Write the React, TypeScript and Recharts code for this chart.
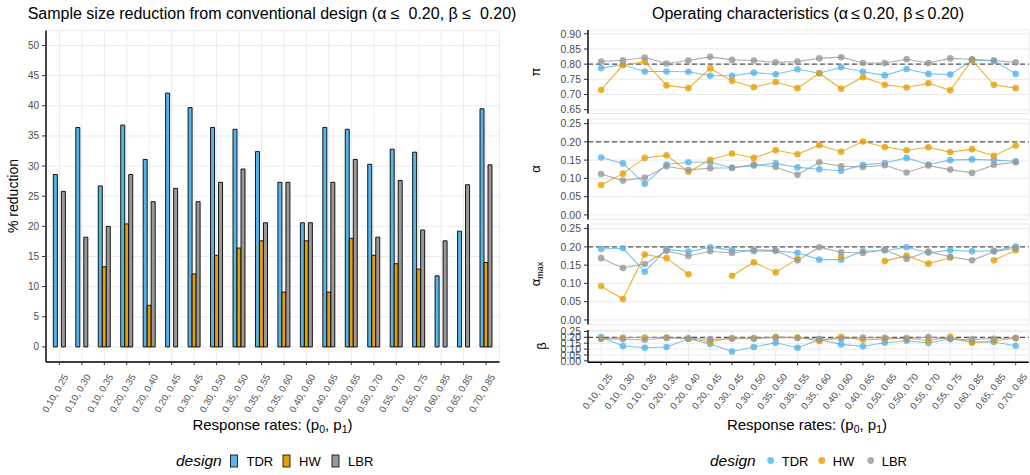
import React from "react";
import {
  Bar,
  BarChart,
  CartesianGrid,
  Line,
  LineChart,
  ReferenceLine,
  XAxis,
  YAxis,
} from "recharts";

const FONT = '"Liberation Sans", Arial, Helvetica, sans-serif';
const TEXT = "#4d4d4d";
const GRID = "#ebebeb";
const COLORS: Record<string, string> = { TDR: "#56B4E9", HW: "#E69F00", LBR: "#999999" };
const designs = ["TDR", "HW", "LBR"];

const categories = [
  "0.10, 0.25", "0.10, 0.30", "0.10, 0.35", "0.20, 0.35", "0.20, 0.40",
  "0.20, 0.45", "0.30, 0.45", "0.30, 0.50", "0.35, 0.50", "0.35, 0.55",
  "0.35, 0.60", "0.40, 0.60", "0.40, 0.65", "0.50, 0.65", "0.50, 0.70",
  "0.55, 0.70", "0.55, 0.75", "0.60, 0.85", "0.65, 0.85", "0.70, 0.85",
];

// % reduction in sample size (left panel)
const reductionTDR = [28.6, 36.4, 26.7, 36.8, 31.1, 42.1, 39.7, 36.4, 36.1, 32.4, 27.3, 20.6, 36.4, 36.1, 30.3, 32.8, 32.3, 11.8, 19.2, 39.5];
const reductionHW = [null, null, 13.3, 20.4, 6.9, null, 12.1, 15.2, 16.4, 17.6, 9.1, 17.6, 9.1, 18.0, 15.2, 13.8, 12.9, null, null, 14.0];
const reductionLBR = [25.8, 18.2, 20.0, 28.6, 24.1, 26.3, 24.1, 27.3, 29.5, 20.6, 27.3, 20.6, 27.3, 31.1, 18.2, 27.6, 19.4, 17.6, 26.9, 30.2];
const reductionTicks = [0, 5, 10, 15, 20, 25, 30, 35, 40, 45, 50];

// operating characteristics (right panels)
const piTDR = [0.787, 0.798, 0.776, 0.776, 0.775, 0.762, 0.762, 0.772, 0.767, 0.783, 0.770, 0.790, 0.775, 0.763, 0.784, 0.768, 0.766, 0.813, 0.811, 0.768];
const piHW = [0.715, 0.797, 0.808, 0.730, 0.721, 0.786, 0.745, 0.724, 0.741, 0.721, 0.770, 0.719, 0.757, 0.732, 0.723, 0.737, 0.714, 0.814, 0.732, 0.721];
const piLBR = [0.809, 0.813, 0.822, 0.802, 0.812, 0.824, 0.814, 0.812, 0.806, 0.809, 0.819, 0.823, 0.804, 0.804, 0.816, 0.804, 0.819, 0.816, 0.812, 0.806];

const alphaTDR = [0.157, 0.141, 0.085, 0.138, 0.144, 0.144, 0.129, 0.135, 0.141, 0.130, 0.125, 0.121, 0.137, 0.142, 0.156, 0.138, 0.150, 0.152, 0.150, 0.147];
const alphaHW = [0.082, 0.113, 0.156, 0.163, 0.118, 0.151, 0.168, 0.156, 0.177, 0.166, 0.191, 0.173, 0.201, 0.186, 0.177, 0.185, 0.172, 0.180, 0.162, 0.190];
const alphaLBR = [0.112, 0.094, 0.102, 0.133, 0.123, 0.128, 0.129, 0.138, 0.131, 0.110, 0.144, 0.133, 0.131, 0.136, 0.116, 0.135, 0.124, 0.115, 0.137, 0.144];

const amaxTDR = [0.194, 0.196, 0.132, 0.193, 0.187, 0.199, 0.191, 0.188, 0.189, 0.184, 0.165, 0.165, 0.188, 0.190, 0.199, 0.184, 0.191, 0.188, 0.189, 0.201];
const amaxHW = [0.093, 0.057, 0.179, 0.169, 0.125, null, 0.121, 0.158, 0.130, 0.167, null, 0.172, null, 0.161, 0.176, 0.154, 0.170, null, 0.163, 0.191];
const amaxLBR = [0.169, 0.142, 0.153, 0.189, 0.175, 0.188, 0.183, 0.192, 0.190, 0.163, 0.199, 0.185, 0.183, 0.192, 0.167, 0.187, 0.173, 0.163, 0.187, 0.196];

const betaTDR = [0.202, 0.126, 0.112, 0.118, 0.188, 0.143, 0.079, 0.118, 0.154, 0.112, 0.180, 0.140, 0.124, 0.154, 0.171, 0.152, 0.188, 0.160, 0.160, 0.129];
const betaHW = [0.188, 0.199, 0.199, 0.199, 0.188, 0.163, 0.194, 0.194, 0.202, 0.199, 0.169, 0.202, 0.180, 0.185, 0.194, 0.171, 0.205, 0.154, 0.169, 0.194];
const betaLBR = [0.188, 0.185, 0.180, 0.194, 0.191, 0.183, 0.188, 0.188, 0.199, 0.194, 0.185, 0.188, 0.199, 0.197, 0.188, 0.202, 0.185, 0.183, 0.188, 0.194];

const piTicks = [0.65, 0.7, 0.75, 0.8, 0.85, 0.9];
const ocTicks = [0, 0.05, 0.1, 0.15, 0.2, 0.25];

const rows = (tdr: (number | null)[], hw: (number | null)[], lbr: (number | null)[]) =>
  categories.map((cat, i) => ({ cat, TDR: tdr[i], HW: hw[i], LBR: lbr[i] }));

const barData = rows(reductionTDR, reductionHW, reductionLBR);

// plot-area top / height in page pixels, one entry per stacked panel
const panels = [
  { key: "pi", data: rows(piTDR, piHW, piLBR), top: 30, height: 83.5, domain: [0.6375, 0.9125], ticks: piTicks, ref: 0.8 },
  { key: "alpha", data: rows(alphaTDR, alphaHW, alphaLBR), top: 119, height: 100.5, domain: [-0.0125, 0.2625], ticks: ocTicks, ref: 0.2 },
  { key: "amax", data: rows(amaxTDR, amaxHW, amaxLBR), top: 224, height: 100.5, domain: [-0.0125, 0.2625], ticks: ocTicks, ref: 0.2 },
  { key: "beta", data: rows(betaTDR, betaHW, betaLBR), top: 330, height: 32.3, domain: [-0.0125, 0.2625], ticks: ocTicks, ref: 0.2, last: true },
];

// slanted category label; anchor is the upper-right end of the text
function SlantTick(props: any) {
  const { x, y, payload, angle = 60, dx = 3, dy = 6 } = props;
  const ax = x + dx;
  const ay = y + dy;
  return (
    <text
      x={ax}
      y={ay}
      transform={`rotate(-${angle} ${ax} ${ay})`}
      textAnchor="end"
      dominantBaseline="hanging"
      fontSize={9.5}
      fill={TEXT}
      fontFamily={FONT}
    >
      {payload.value}
    </text>
  );
}

function Overlay() {
  const leg = { fontSize: 13, fill: "#000" };
  return (
    <svg
      width={1030}
      height={475}
      style={{ position: "absolute", left: 0, top: 0, pointerEvents: "none" }}
      fontFamily={FONT}
    >
      <text x={272} y={18.5} textAnchor="middle" fontSize={16} fill="#000">
        Sample size reduction from conventional design (α ≤{"\u00a0"} 0.20, β ≤{"\u00a0"} 0.20)
      </text>
      <text x={808} y={19} textAnchor="middle" fontSize={16} fill="#000">
        Operating characteristics (α{"\u2009"}≤{"\u2009"}0.20, β{"\u2009"}≤{"\u2009"}0.20)
      </text>

      <text x={18} y={196} transform="rotate(-90 18 196)" textAnchor="middle" fontSize={14} fill="#000">
        % reduction
      </text>
      <text x={540} y={72} transform="rotate(-90 540 72)" textAnchor="middle" fontSize={13} fill="#000">π</text>
      <text x={540} y={169} transform="rotate(-90 540 169)" textAnchor="middle" fontSize={13} fill="#000">α</text>
      <text x={540} y={274} transform="rotate(-90 540 274)" textAnchor="middle" fontSize={13} fill="#000">
        α<tspan fontSize={9} dy={3}>max</tspan>
      </text>
      <text x={546} y={346} transform="rotate(-90 546 346)" textAnchor="middle" fontSize={13} fill="#000">β</text>

      {[272.5, 807].map((cx) => (
        <text key={cx} x={cx} y={429.5} textAnchor="middle" fontSize={15} fill="#000">
          Response rates: (p<tspan fontSize={10.5} dy={3}>0</tspan>
          <tspan dy={-3}>, p</tspan>
          <tspan fontSize={10.5} dy={3}>1</tspan>
          <tspan dy={-3}>)</tspan>
        </text>
      ))}

      {/* left legend */}
      <text x={176} y={465.5} fontSize={15.5} fontStyle="italic" fill="#000">design</text>
      {designs.map((d, i) => {
        const xs = [230.5, 283, 332];
        return (
          <g key={d}>
            <rect x={xs[i]} y={455} width={7} height={12} fill={COLORS[d]} stroke="#000" strokeWidth={0.8} />
            <text x={xs[i] + 16} y={465.5} {...leg}>{d}</text>
          </g>
        );
      })}

      {/* right legend */}
      <text x={710} y={465.5} fontSize={15.5} fontStyle="italic" fill="#000">design</text>
      {designs.map((d, i) => {
        const xs = [770.7, 821.7, 870.7];
        return (
          <g key={d}>
            <circle cx={xs[i]} cy={460.5} r={3.4} fill={COLORS[d]} fillOpacity={0.8} />
            <text x={xs[i] + 11} y={465.5} {...leg}>{d}</text>
          </g>
        );
      })}
    </svg>
  );
}

export default function App() {
  return (
    <div
      style={{
        position: "absolute",
        left: 0,
        top: 0,
        width: 1030,
        height: 475,
        background: "#fff",
        fontFamily: FONT,
        overflow: "hidden",
      }}
    >
      <div style={{ position: "absolute", left: 0, top: 0 }}>
        <BarChart
          width={520}
          height={475}
          data={barData}
          margin={{ top: 30.4, right: 20.5, bottom: 0, left: 0 }}
          barCategoryGap="23%"
          barGap={0}
        >
          <CartesianGrid stroke={GRID} strokeWidth={1} />
          <XAxis
            dataKey="cat"
            interval={0}
            height={113}
            padding={{ left: 2.2, right: 2.2 }}
            tick={<SlantTick angle={60} dx={3} dy={6} />}
            tickSize={3}
            tickLine={{ stroke: "#333" }}
            axisLine={{ stroke: "#000", strokeWidth: 1.4 }}
          />
          <YAxis
            width={46}
            type="number"
            domain={[-2.5, 52.5]}
            ticks={reductionTicks}
            allowDataOverflow
            interval={0}
            tick={{ fill: TEXT, fontSize: 10 }}
            tickSize={4}
            tickMargin={3}
            tickLine={{ stroke: "#333" }}
            axisLine={{ stroke: "#000", strokeWidth: 1.4 }}
          />
          {designs.map((d) => (
            <Bar
              key={d}
              dataKey={d}
              fill={COLORS[d]}
              stroke="#000"
              strokeWidth={0.9}
              isAnimationActive={false}
            />
          ))}
        </BarChart>
      </div>

      {panels.map((p) => {
        const padTop = 10;
        const bottomArea = p.last ? 100 : 10;
        return (
          <div key={p.key} style={{ position: "absolute", left: 520, top: p.top - padTop }}>
            <LineChart
              width={510}
              height={padTop + p.height + bottomArea}
              data={p.data}
              margin={{ top: padTop, right: 1.2, bottom: p.last ? 0 : bottomArea, left: 0 }}
            >
              <CartesianGrid stroke={GRID} strokeWidth={1} />
              <XAxis
                dataKey="cat"
                scale="point"
                interval={0}
                padding={{ left: 13.1, right: 13.1 }}
                height={p.last ? bottomArea : 0}
                tick={p.last ? <SlantTick angle={52} dx={6.5} dy={5} /> : false}
                tickSize={3}
                tickLine={p.last ? { stroke: "#333" } : false}
                axisLine={p.last ? { stroke: "#000", strokeWidth: 1.4 } : false}
              />
              <YAxis
                width={68}
                type="number"
                domain={p.domain}
                ticks={p.ticks}
                allowDataOverflow
                interval={0}
                tickFormatter={(v: number) => v.toFixed(2)}
                tick={{ fill: TEXT, fontSize: 10.5 }}
                tickSize={4}
                tickMargin={3}
                tickLine={{ stroke: "#333" }}
                axisLine={{ stroke: "#000", strokeWidth: 1.4 }}
              />
              <ReferenceLine y={p.ref} stroke="#555" strokeDasharray="5 3" strokeWidth={1.2} />
              {designs.map((d) => (
                <Line
                  key={d + "-line"}
                  dataKey={d}
                  stroke={COLORS[d]}
                  strokeOpacity={0.8}
                  strokeWidth={1.1}
                  dot={false}
                  activeDot={false}
                  isAnimationActive={false}
                />
              ))}
              {designs.map((d) => (
                <Line
                  key={d + "-dot"}
                  dataKey={d}
                  stroke="none"
                  dot={{ r: 3.3, fill: COLORS[d], fillOpacity: 0.8, stroke: "none" }}
                  activeDot={false}
                  isAnimationActive={false}
                />
              ))}
            </LineChart>
          </div>
        );
      })}

      <Overlay />
    </div>
  );
}
